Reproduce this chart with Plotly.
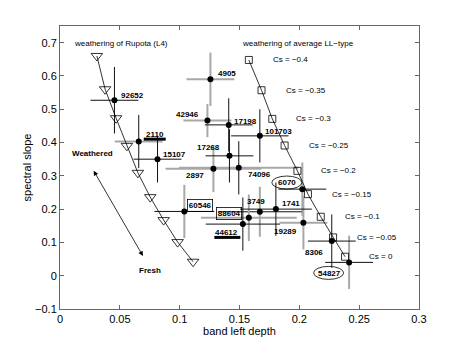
import plotly.graph_objects as go

# weathering track of Rupota (L4)
rup_x = [0.0308, 0.0377, 0.0469, 0.0559, 0.0651, 0.0754, 0.0866, 0.0983, 0.1112]
rup_y = [0.660, 0.560, 0.473, 0.390, 0.309, 0.236, 0.167, 0.101, 0.042]

# weathering track of average LL-type
ll_x = [0.1578, 0.1684, 0.1774, 0.1877, 0.1984, 0.2072, 0.2179, 0.2282, 0.2382]
ll_y = [0.648, 0.557, 0.471, 0.391, 0.315, 0.245, 0.177, 0.115, 0.057]
cs_labels = ["Cs = −0.4", "Cs = −0.35", "Cs = −0.3", "Cs = −0.25", "Cs = −0.2",
             "Cs = −0.15", "Cs = −0.1", "Cs = −0.05", "Cs = 0"]

# asteroids
ast_names = ["92652", "2110", "15107", "42946", "4905", "17198", "101703", "17268", "2897",
             "74096", "6070", "60546", "3749", "1741", "88604", "44612", "19289", "8306", "54827"]
ast_x = [0.0455, 0.0658, 0.0815, 0.1232, 0.1257, 0.1410, 0.1670, 0.1416, 0.1282,
         0.1494, 0.2025, 0.1039, 0.1670, 0.1804, 0.1578, 0.1528, 0.2034, 0.2271, 0.2416]
ast_y = [0.527, 0.403, 0.350, 0.466, 0.590, 0.453, 0.420, 0.360, 0.321,
         0.324, 0.260, 0.193, 0.192, 0.200, 0.174, 0.155, 0.159, 0.104, 0.040]
ast_xerr = [0.02, 0.02, 0.02, 0.02, 0.02, 0.02, 0.024, 0.02, 0.04,
            0.05, 0.02, 0.025, 0.035, 0.03, 0.04, 0.031, 0.02, 0.02, 0.02]
ast_yerr = [0.1, 0.08, 0.07, 0.05, 0.08, 0.08, 0.08, 0.08, 0.07,
            0.08, 0.08, 0.08, 0.075, 0.08, 0.07, 0.08, 0.08, 0.08, 0.08]

# error bar colours (horizontal, vertical): k = black, g = grey
bar_style = {
    "92652": "kk", "2110": "gk", "15107": "kk", "42946": "gg", "4905": "gg",
    "17198": "kk", "101703": "kk", "17268": "kk", "2897": "gg", "74096": "gk",
    "6070": "kg", "60546": "kg", "3749": "kg", "1741": "kk", "88604": "gg",
    "44612": "kk", "19289": "gg", "8306": "kk", "54827": "kg",
}
# label placement: anchor, x shift px, y shift px (screen, down positive)
label_pos = {
    "92652": ("left", 5, -5), "2110": ("left", 5, -7), "15107": ("left", 3, -5),
    "42946": ("right", -6, -6), "4905": ("left", 6, -6), "17198": ("left", 3, -3),
    "101703": ("left", 3, -4), "17268": ("right", -7, -8), "2897": ("right", -7, 7),
    "74096": ("left", 7, 7), "6070": ("center", -15, -7), "60546": ("left", 3, -6),
    "3749": ("center", -4, -10), "1741": ("left", 4, -6), "88604": ("right", -7, -4),
    "44612": ("right", -3, 8), "19289": ("right", -4, 9), "8306": ("right", -7, 11),
    "54827": ("center", -20, 11),
}
boxed = ["60546", "88604"]

FONT = "Liberation Sans, Arial, Helvetica, sans-serif"
col = {"k": "#111", "g": "#a8a8a8"}
thick = {"k": 1, "g": 2}

fig = go.Figure()

# error crosses, grey first
for grey_pass in (True, False):
    for i, n in enumerate(ast_names):
        hx, vy = bar_style[n]
        if ("g" in (hx + vy)) != grey_pass:
            continue
        fig.add_trace(go.Scatter(
            x=[ast_x[i]], y=[ast_y[i]], mode="markers",
            marker=dict(size=1, color="rgba(0,0,0,0)"),
            error_x=dict(type="constant", value=ast_xerr[i], color=col[hx], thickness=thick[hx], width=0),
            error_y=dict(type="constant", value=ast_yerr[i], color=col[vy], thickness=thick[vy], width=0),
            hoverinfo="skip",
        ))

fig.add_trace(go.Scatter(
    x=rup_x, y=rup_y, mode="lines+markers",
    line=dict(color="black", width=0.8),
    marker=dict(symbol="triangle-down-open", size=10, color="black", line=dict(width=0.8)),
))
fig.add_trace(go.Scatter(
    x=ll_x, y=ll_y, mode="lines+markers",
    line=dict(color="black", width=0.8),
    marker=dict(symbol="square-open", size=7, color="black", line=dict(width=0.8)),
))
fig.add_trace(go.Scatter(
    x=ast_x, y=ast_y, mode="markers",
    marker=dict(symbol="circle", size=6, color="black"),
    text=ast_names, hoverinfo="text",
))

ann = []
for i, n in enumerate(ast_names):
    anc, dx, dy = label_pos[n]
    a = dict(x=ast_x[i], y=ast_y[i], xref="x", yref="y", text="<b>" + n + "</b>",
             showarrow=False, xanchor=anc, yanchor="middle", xshift=dx, yshift=-dy,
             font=dict(family=FONT, size=8, color="black"))
    if n in boxed:
        a.update(bordercolor="black", borderwidth=0.8, borderpad=1)
    ann.append(a)

for i, t in enumerate(cs_labels):
    ann.append(dict(x=ll_x[i], y=ll_y[i], xref="x", yref="y", text=t, showarrow=False,
                    xanchor="left", yanchor="middle", xshift=22,
                    font=dict(family=FONT, size=8, color="black")))

ann += [
    dict(x=0.0103, y=0.698, xref="x", yref="y", text="weathering of Rupota (L4)", showarrow=False,
         xanchor="left", yanchor="middle", font=dict(family=FONT, size=8, color="black")),
    dict(x=0.1503, y=0.698, xref="x", yref="y", text="weathering of average LL−type", showarrow=False,
         xanchor="left", yanchor="middle", font=dict(family=FONT, size=8, color="black")),
    dict(x=0.0272, y=0.367, xref="x", yref="y", text="<b>Weathered</b>", showarrow=False,
         font=dict(family=FONT, size=8, color="black")),
    dict(x=0.0754, y=0.015, xref="x", yref="y", text="<b>Fresh</b>", showarrow=False,
         font=dict(family=FONT, size=8, color="black")),
    dict(x=0.0693, y=0.0592, ax=0.0274, ay=0.3197, xref="x", yref="y", axref="x", ayref="y",
         text="", showarrow=True, arrowside="end+start", arrowhead=2, arrowsize=1.2,
         arrowwidth=0.8, arrowcolor="black"),
]

idx = {n: i for i, n in enumerate(ast_names)}
shapes = []
# ellipses around 6070 and 54827
for n, (cx, cy) in (("6070", (-15.5, 6.6)), ("54827", (-20.5, -10.5))):
    i = idx[n]
    shapes.append(dict(type="circle", xref="x", yref="y", xsizemode="pixel", ysizemode="pixel",
                       xanchor=ast_x[i], yanchor=ast_y[i],
                       x0=cx - 15, x1=cx + 15, y0=cy - 6.5, y1=cy + 6.5,
                       line=dict(color="black", width=0.8)))
# thick underlines for 2110 and 44612
for n, (u0, u1, uy) in (("2110", (5, 27, 2.4)), ("44612", (-28.5, -2.5, -13.3))):
    i = idx[n]
    shapes.append(dict(type="line", xref="x", yref="y", xsizemode="pixel", ysizemode="pixel",
                       xanchor=ast_x[i], yanchor=ast_y[i], x0=u0, x1=u1, y0=uy, y1=uy,
                       line=dict(color="black", width=3)))

axis = dict(showgrid=False, zeroline=False, showline=True, mirror="ticks", linecolor="#666",
            linewidth=1, ticks="inside", ticklen=4, tickcolor="#666",
            tickfont=dict(family=FONT, size=11, color="black"))

# the page adds an 8px body margin, so the figure is a little smaller than the window
fig.update_layout(
    width=455, height=340,
    margin=dict(l=52, r=44, t=18, b=39),
    paper_bgcolor="white", plot_bgcolor="white",
    showlegend=False,
    annotations=ann, shapes=shapes,
    xaxis=dict(axis, range=[0, 0.3], tickvals=[0, 0.05, 0.1, 0.15, 0.2, 0.25, 0.3],
               ticktext=["0", "0.05", "0.1", "0.15", "0.2", "0.25", "0.3"],
               title=dict(text="band left depth", font=dict(family=FONT, size=11, color="black"), standoff=2)),
    yaxis=dict(axis, range=[-0.1, 0.75], tickvals=[-0.1, 0, 0.1, 0.2, 0.3, 0.4, 0.5, 0.6, 0.7],
               ticktext=["−0.1", "0", "0.1", "0.2", "0.3", "0.4", "0.5", "0.6", "0.7"],
               title=dict(text="spectral slope", font=dict(family=FONT, size=11, color="black"), standoff=1)),
)

fig.write_html("out.html")
